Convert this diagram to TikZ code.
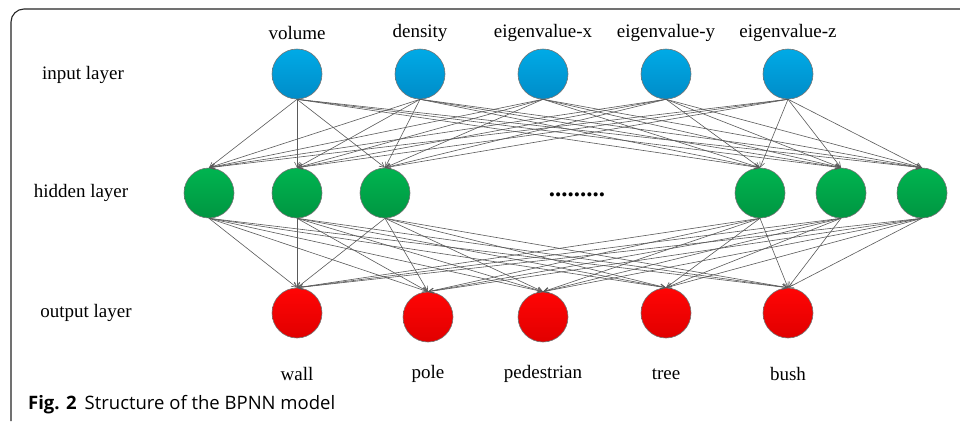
\documentclass[tikz,border=0pt]{standalone}
\usepackage{fontspec}
\setmainfont{Liberation Serif}
\newfontfamily\capfont{Open Sans}
\usetikzlibrary{arrows.meta}
\definecolor{bluetop}{RGB}{0,170,230}
\definecolor{bluebot}{RGB}{0,140,200}
\definecolor{greentop}{RGB}{0,180,80}
\definecolor{greenbot}{RGB}{0,150,65}
\definecolor{redtop}{RGB}{255,5,5}
\definecolor{redbot}{RGB}{225,0,0}
\definecolor{edgegray}{RGB}{90,90,90}
\tikzset{
  neuron/.style={circle, minimum size=50pt, inner sep=0pt, draw=black!55, line width=0.6pt},
  inneuron/.style={neuron, top color=bluetop, bottom color=bluebot},
  hidneuron/.style={neuron, top color=greentop, bottom color=greenbot},
  outneuron/.style={neuron, top color=redtop, bottom color=redbot},
  lbl/.style={font=\fontsize{19}{22}\selectfont, inner sep=0pt},
  conn/.style={draw=edgegray, line width=0.6pt, -{Straight Barb[length=5pt,width=5pt]}},
}
\begin{document}
\begin{tikzpicture}[x=1pt,y=-1pt]
\useasboundingbox (0,0) rectangle (960,421);
\fill[white] (0,0) rectangle (960,421);
% frame
\draw[line width=1.1pt, black!85] (11,421) -- (11,22) arc[start angle=180, end angle=270, radius=13] -- (960,9);

% layer labels
\node[lbl] (lin) at (83,75) {input layer};
\node[lbl] (lhid) at (81,193) {hidden layer};
\node[lbl] (lout) at (86,313) {output layer};

% input nodes
\foreach \n/\x/\t in {1/297/volume,2/420/density,3/543/eigenvalue-x,4/666/eigenvalue-y,5/788/eigenvalue-z}{
  \node[inneuron] (i\n) at (\x,74) {};
  \node[lbl] (ti\n) at (\x,33) {\t};
}
% hidden nodes
\foreach \n/\x in {1/209,2/297,3/385,4/760,5/841,6/922}{
  \node[hidneuron] (h\n) at (\x,193) {};
}
\node[inner sep=0pt, anchor=base, font=\fontsize{25}{28}\selectfont\bfseries] (dots) at (577,196) {.........};
% output nodes
\foreach \n/\x/\y/\t in {1/297/313/wall,2/428/317/pole,3/543/317/pedestrian,4/666/313/tree,5/788/313/bush}{
  \node[outneuron] (o\n) at (\x,\y) {};
  \node[lbl] (to\n) at (\x,374) {\t};
}

% connections
\foreach \a in {1,...,5}{
  \foreach \b in {1,...,6}{
    \draw[conn] (i\a.south) -- (h\b.north);
  }
}
\foreach \a in {1,...,6}{
  \foreach \b in {1,...,5}{
    \draw[conn] (h\a.south) -- (o\b.north);
  }
}

% caption
\node[anchor=base west, inner sep=0pt, font=\capfont\fontsize{18.5}{21}\selectfont] (cap) at (28,409) {\textbf{Fig. 2}\hspace{8pt}Structure of the BPNN model};
\end{tikzpicture}
\end{document}
